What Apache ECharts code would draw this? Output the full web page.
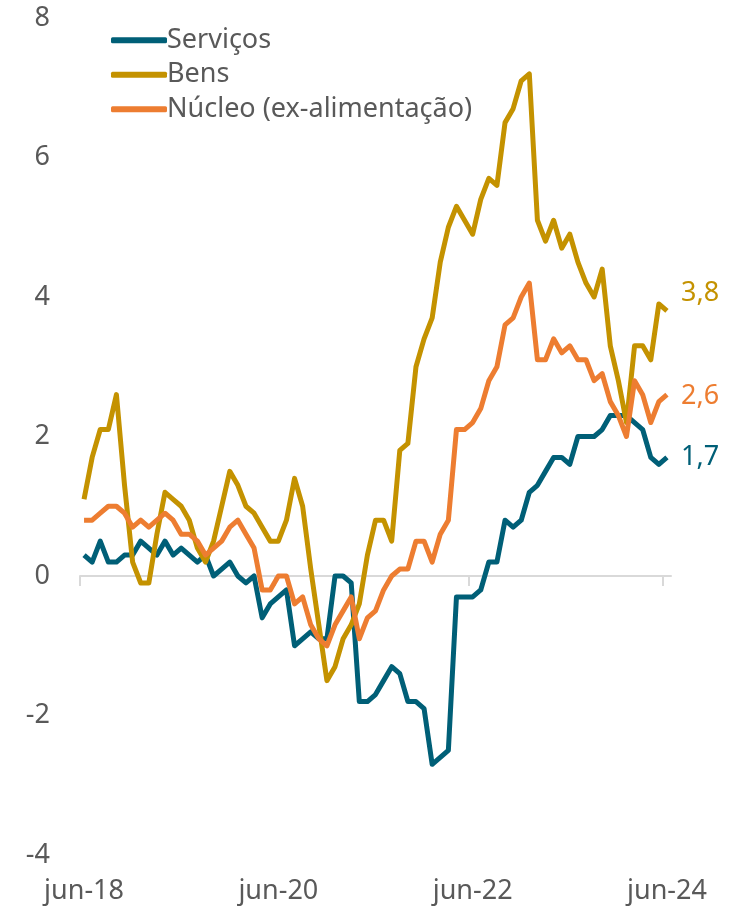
<!DOCTYPE html>
<html>
<head>
<meta charset="utf-8">
<script src="https://cdn.jsdelivr.net/npm/echarts@6/dist/echarts.min.js"></script>
<style>
  html, body { margin: 0; padding: 0; background: #fff; }
  #chart { width: 748px; height: 915px; }
</style>
</head>
<body>
<div id="chart"></div>
<script>
  'use strict'
  /*----- data: monthly, jun-18 .. jun-24 -----*/
  var monthNames = ['jan', 'fev', 'mar', 'abr', 'mai', 'jun', 'jul', 'ago', 'set', 'out', 'nov', 'dez'];
  var categories = [];
  for (var k = 0; k < 73; k++) {
    var m = (5 + k) % 12;
    var yr = 18 + Math.floor((5 + k) / 12);
    categories.push(monthNames[m] + '-' + yr);
  }
  // tick marks every 24 months (jun-18, jun-20, jun-22, jun-24)
  var tickMonths = [0, 24, 48, 72];

  var servicos = [
    0.3, 0.2, 0.5, 0.2, 0.2, 0.3, 0.3, 0.5, 0.4, 0.3, 0.5, 0.3,
    0.4, 0.3, 0.2, 0.3, 0.0, 0.1, 0.2, 0.0, -0.1, 0.0, -0.6, -0.4,
    -0.3, -0.2, -1.0, -0.9, -0.8, -0.9, -0.9, 0.0, 0.0, -0.1, -1.8, -1.8,
    -1.7, -1.5, -1.3, -1.4, -1.8, -1.8, -1.9, -2.7, -2.6, -2.5, -0.3, -0.3,
    -0.3, -0.2, 0.2, 0.2, 0.8, 0.7, 0.8, 1.2, 1.3, 1.5, 1.7, 1.7,
    1.6, 2.0, 2.0, 2.0, 2.1, 2.3, 2.3, 2.3, 2.2, 2.1, 1.7, 1.6,
    1.7
  ];
  var bens = [
    1.1, 1.7, 2.1, 2.1, 2.6, 1.3, 0.2, -0.1, -0.1, 0.6, 1.2, 1.1,
    1.0, 0.8, 0.4, 0.2, 0.5, 1.0, 1.5, 1.3, 1.0, 0.9, 0.7, 0.5,
    0.5, 0.8, 1.4, 1.0, 0.1, -0.7, -1.5, -1.3, -0.9, -0.7, -0.4, 0.3,
    0.8, 0.8, 0.5, 1.8, 1.9, 3.0, 3.4, 3.7, 4.5, 5.0, 5.3, 5.1,
    4.9, 5.4, 5.7, 5.6, 6.5, 6.7, 7.1, 7.2, 5.1, 4.8, 5.1, 4.7,
    4.9, 4.5, 4.2, 4.0, 4.4, 3.3, 2.8, 2.2, 3.3, 3.3, 3.1, 3.9,
    3.8
  ];
  var nucleo = [
    0.8, 0.8, 0.9, 1.0, 1.0, 0.9, 0.7, 0.8, 0.7, 0.8, 0.9, 0.8,
    0.6, 0.6, 0.5, 0.3, 0.4, 0.5, 0.7, 0.8, 0.6, 0.4, -0.2, -0.2,
    0.0, 0.0, -0.4, -0.3, -0.7, -0.9, -1.0, -0.7, -0.5, -0.3, -0.9, -0.6,
    -0.5, -0.2, 0.0, 0.1, 0.1, 0.5, 0.5, 0.2, 0.6, 0.8, 2.1, 2.1,
    2.2, 2.4, 2.8, 3.0, 3.6, 3.7, 4.0, 4.2, 3.1, 3.1, 3.4, 3.2,
    3.3, 3.1, 3.1, 2.8, 2.9, 2.5, 2.3, 2.0, 2.8, 2.6, 2.2, 2.5,
    2.6
  ];

  var textColor = '#595959';
  var font = '"Noto Sans", sans-serif';

  function endLabel(color, dy) {
    return {
      show: true,
      color: color,
      fontSize: 27,
      fontFamily: font,
      distance: 14,
      offset: [0, dy],
      formatter: function (p) { return String(p.value).replace('.', ','); }
    };
  }

  function lineSeries(name, data, color, dy) {
    return {
      name: name,
      type: 'line',
      data: data,
      xAxisIndex: 1,
      symbol: 'none',
      lineStyle: { color: color, width: 5, join: 'round' },
      itemStyle: { color: color },
      endLabel: endLabel(color, dy)
    };
  }

  var chart = echarts.init(document.getElementById('chart'));

  var option = {
    animation: false,
    backgroundColor: '#fff',
    grid: {
      top: 18,
      bottom: 60,
      left: 80,
      right: 77
    },
    legend: {
      orient: 'vertical',
      left: 106,
      top: 18,
      itemWidth: 56,
      itemHeight: 6,
      itemGap: 0,
      icon: 'roundRect',
      textStyle: {
        color: textColor,
        fontSize: 27,
        fontFamily: font,
        lineHeight: 34.5,
        padding: [0, 0, 0, -5]
      },
      data: ['Serviços', 'Bens', 'Núcleo (ex-alimentação)']
    },
    xAxis: [
      {
        // zero line with tick marks at month boundaries
        type: 'value',
        min: 0,
        max: categories.length,
        axisLine: { show: true, onZero: true, lineStyle: { color: '#d9d9d9', width: 2 } },
        axisTick: {
          show: true,
          customValues: tickMonths,
          length: 10,
          lineStyle: { color: '#d9d9d9', width: 2 }
        },
        axisLabel: { show: false },
        splitLine: { show: false }
      },
      {
        // series axis (monthly bands)
        type: 'category',
        data: categories,
        boundaryGap: true,
        axisLine: { show: false, onZero: false },
        axisTick: { show: false },
        axisLabel: { show: false },
        splitLine: { show: false }
      },
      {
        // bottom labels
        type: 'category',
        data: categories,
        boundaryGap: true,
        position: 'bottom',
        axisLine: { show: false, onZero: false },
        axisTick: { show: false },
        axisLabel: {
          interval: 23,
          color: textColor,
          fontSize: 27,
          fontFamily: font,
          margin: 23
        },
        splitLine: { show: false }
      }
    ],
    yAxis: {
      type: 'value',
      min: -4,
      max: 8,
      interval: 2,
      axisLine: { show: false },
      axisTick: { show: false },
      splitLine: { show: false },
      axisLabel: {
        color: textColor,
        fontSize: 27,
        fontFamily: font,
        margin: 30
      }
    },
    series: [
      lineSeries('Serviços', servicos, '#005f77', 0),
      lineSeries('Bens', bens, '#c49200', -18),
      lineSeries('Núcleo (ex-alimentação)', nucleo, '#ed7d31', 2)
    ]
  };

  chart.setOption(option);
</script>
</body>
</html>
